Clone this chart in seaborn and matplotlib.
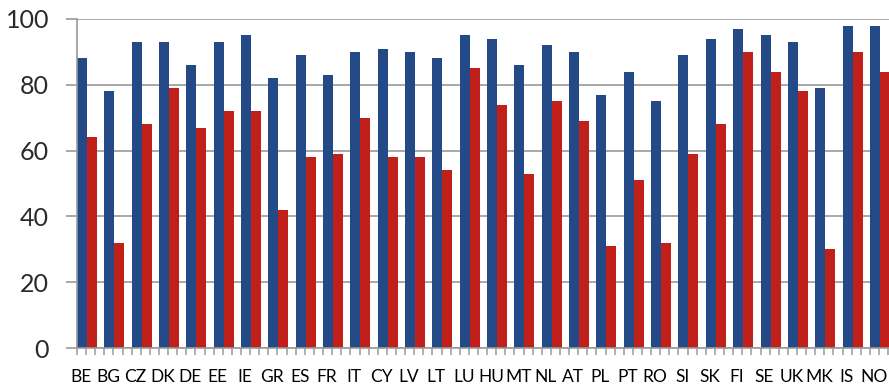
import numpy as np
import pandas as pd
import matplotlib
matplotlib.use("Agg")
import matplotlib.pyplot as plt
import seaborn as sns

countries = ["BE", "BG", "CZ", "DK", "DE", "EE", "IE", "GR", "ES", "FR",
             "IT", "CY", "LV", "LT", "LU", "HU", "MT", "NL", "AT", "PL",
             "PT", "RO", "SI", "SK", "FI", "SE", "UK", "MK", "IS", "NO"]
series_a = [88, 78, 93, 93, 86, 93, 95, 82, 89, 83,
            90, 91, 90, 88, 95, 94, 86, 92, 90, 77,
            84, 75, 89, 94, 97, 95, 93, 79, 98, 98]
series_b = [64, 32, 68, 79, 67, 72, 72, 42, 58, 59,
            70, 58, 58, 54, 85, 74, 53, 75, 69, 31,
            51, 32, 59, 68, 90, 84, 78, 30, 90, 84]
series_names = ["A", "B"]
yticks = [0, 20, 40, 60, 80, 100]

df = pd.DataFrame({
    "country": countries * 2,
    "value": series_a + series_b,
    "series": [series_names[0]] * len(countries) + [series_names[1]] * len(countries),
})

sns.set_theme(style="white")
plt.rcParams['font.family'] = ['Lato', 'DejaVu Sans']

W, H = 889, 385
fig = plt.figure(figsize=(W / 100, H / 100), dpi=100)
left_px, bottom_px, top_px = 77, 348, 19
slot = 27.34
ax_w = slot * 30
ax = fig.add_axes([left_px / W, (H - bottom_px) / H, ax_w / W, (bottom_px - top_px) / H])

sns.barplot(data=df, x="country", y="value", hue="series", order=countries,
            palette=["#234A86", "#C1201A"], width=0.732, saturation=1,
            dodge=True, legend=False, ax=ax, errorbar=None, linewidth=0)

x0 = -0.366
ax.set_xlim(x0, x0 + 30)
ax.set_ylim(0, 100)
ax.set_yticks(yticks)
ax.set_yticklabels([str(v) for v in yticks], fontsize=18, color="#2a2a2a")
ax.yaxis.grid(True, color="#9a9a9a", linewidth=1.2)
ax.set_axisbelow(True)
ax.tick_params(axis="y", length=8, width=1.2, color="#9a9a9a", pad=12, left=True)

ax.set_xticks(np.arange(30) - 0.22)
ax.set_xticklabels(countries, fontsize=12.5, color="#000000")
ax.tick_params(axis="x", length=0, pad=15)
ax.set_xticks(x0 + np.arange(0, 91) / 3, minor=True)
ax.tick_params(axis="x", which="minor", length=5, width=1.1, color="#9a9a9a", bottom=True)

ax.set_xlabel("")
ax.set_ylabel("")
for s in ["top", "right"]:
    ax.spines[s].set_visible(False)
ax.spines["left"].set_color("#9a9a9a")
ax.spines["left"].set_linewidth(1.2)
ax.spines["bottom"].set_color("#9a9a9a")
ax.spines["bottom"].set_linewidth(1.2)

fig.savefig("out.png", dpi=100)
